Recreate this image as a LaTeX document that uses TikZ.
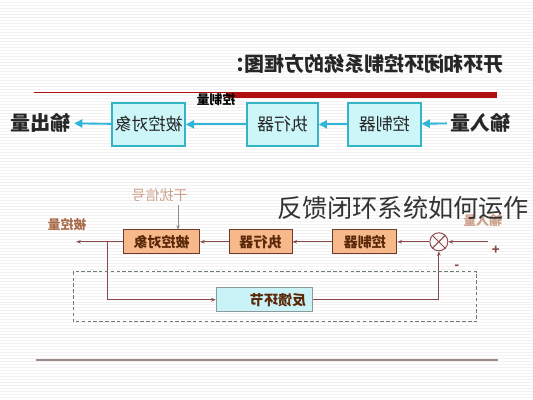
\documentclass[tikz,border=0pt]{standalone}
\usepackage{fontspec}
\usepackage{graphicx}
\usepackage{xcolor}
\setmainfont{Noto Sans CJK SC}
\usetikzlibrary{positioning, arrows.meta, calc}

\definecolor{topfill}{HTML}{CDF6F9}
\definecolor{topdraw}{HTML}{35B4C6}
\definecolor{toparrowc}{HTML}{2FB6D8}
\definecolor{botfill}{HTML}{F7B98A}
\definecolor{botdraw}{HTML}{6B3A2A}
\definecolor{botline}{HTML}{8A4848}
\definecolor{bottext}{HTML}{5A2808}
\definecolor{fbfill}{HTML}{C9F3F7}
\definecolor{fbdraw}{HTML}{8A9A9A}
\definecolor{dashcol}{HTML}{6C7C6C}
\definecolor{redline}{HTML}{B01010}
\definecolor{distcol}{HTML}{CCA08A}
\definecolor{outcol}{HTML}{A86A48}
\definecolor{basecol}{HTML}{9A8A85}

\newcommand{\mirr}[1]{\reflectbox{#1}}

\begin{document}
\begin{tikzpicture}[
    x=0.03cm, y=-0.03cm,
    topbox/.style={draw=topdraw, line width=1.4pt, fill=topfill, minimum width=2.19cm, minimum height=1.29cm, inner sep=0pt, font=\fontsize{14.5}{14.5}\selectfont, text=black!85},
    botbox/.style={draw=botdraw, line width=0.8pt, fill=botfill, minimum height=0.72cm, inner sep=0pt, font=\fontsize{12}{12}\selectfont\bfseries, text=bottext},
    fbbox/.style={draw=fbdraw, line width=0.8pt, fill=fbfill, minimum height=0.72cm, text width=2.5cm, align=right, inner xsep=0.2cm, inner ysep=0pt, font=\fontsize{12}{12}\selectfont\bfseries, text=bottext},
    toparrow/.style={-{Triangle[length=7pt,width=7pt]}, line width=1.6pt, draw=toparrowc, fill=toparrowc},
    botarrow/.style={-{Stealth[length=4pt,width=3pt]}, line width=0.9pt, draw=botline},
    bigtext/.style={font=\fontsize{17}{17}\selectfont\bfseries, text=black!85},
    smalllabel/.style={font=\fontsize{11}{11}\selectfont\bfseries}
]
    % --- Background ---
    \fill[white] (0,0) rectangle (533,400);
    \foreach \yy in {2,5,...,398}
        \draw[black!5, line width=0.4pt] (0,\yy) -- (533,\yy);
    \useasboundingbox (0,0) rectangle (533,400);

    % --- Title ---
    \node[bigtext] (title) at (364.5,64) {\mirr{开环和闭环控制系统的方框图：}};
    \draw[redline, line width=0.8pt] (34,92.5) -- (497,92.5);
    \fill[redline] (226,91.7) rectangle (497,97.8);

    % --- Open loop (top) ---
    \node[topbox] (ctrl) at (384.5,124.5) {\mirr{控制器}};
    \node[topbox, minimum width=2.13cm] (act) at (282.5,124.5) {\mirr{执行器}};
    \node[topbox] (plant) at (148.5,124.5) {\mirr{被控对象}};
    \node[bigtext] (inq) at (481,123) {\mirr{输入量}};
    \node[bigtext] (outq) at (40,123) {\mirr{输出量}};
    \node[smalllabel] (ctrlq) at (216,100) {\mirr{控制量}};

    \draw[toparrow] (inq) -- (ctrl);
    \draw[toparrow] (ctrl) -- (act);
    \draw[toparrow] (act) -- (plant);
    \draw[toparrow] (plant) -- (outq);

    % --- Closed loop (bottom) ---
    \node[botbox, minimum width=2.28cm] (plant2) at (161.5,242) {\mirr{被控对象}};
    \node[botbox, minimum width=1.89cm] (act2) at (260.5,242) {\mirr{执行器}};
    \node[botbox, minimum width=1.92cm] (ctrl2) at (365,242) {\mirr{控制器}};
    \node[draw=botline, circle, minimum size=0.54cm, inner sep=0pt, line width=0.8pt] (sum) at (439,242) {};
    \draw[botline, line width=0.8pt] (sum.north west) -- (sum.south east);
    \draw[botline, line width=0.8pt] (sum.north east) -- (sum.south west);
    \node[fbbox] (fb) at (264.5,300) {\mirr{反馈环节}};

    \coordinate (setin) at (488,242);
    \coordinate (outend) at (76,242);
    \coordinate (branch) at (107,242);
    \coordinate (distin) at (178,230);

    \draw[botarrow] (setin) -- (sum);
    \draw[botarrow] (sum) -- (ctrl2);
    \draw[botarrow] (ctrl2) -- (act2);
    \draw[botarrow] (act2) -- (plant2);
    \draw[botarrow] (plant2) -- (outend);
    \draw[botarrow] (branch) |- (fb);
    \draw[botarrow] (fb) -| (sum);

    \node[font=\fontsize{12}{12}\selectfont, text=distcol] (dist) at (159.5,195) {\mirr{干扰信号}};
    \draw[-{Stealth[length=4pt,width=3pt]}, line width=0.6pt, draw=black!45] (dist.south -| distin) -- (distin);
    \node[smalllabel, text=outcol] (outq2) at (67,225) {\mirr{被控量}};
    \node[smalllabel, text=distcol] (inq2) at (483,221) {\mirr{输入量}};
    \node[font=\fontsize{11}{11}\selectfont\bfseries, text=botline] (plus) at (496,251) {+};
    \node[font=\fontsize{11}{11}\selectfont\bfseries, text=botline] (minus) at (457,267) {-};

    \draw[dashcol, line width=0.9pt, dash pattern=on 3pt off 2pt] (73,272) rectangle (477,322);

    % --- Caption over the picture ---
    \node[font=\fontsize{21.5}{21.5}\selectfont, text=black!80, anchor=west, inner sep=0pt] (caption) at (277,208) {反馈闭环系统如何运作};

    % --- Base line ---
    \draw[basecol, line width=1.5pt] (36,360.5) -- (498,360.5);
\end{tikzpicture}
\end{document}
